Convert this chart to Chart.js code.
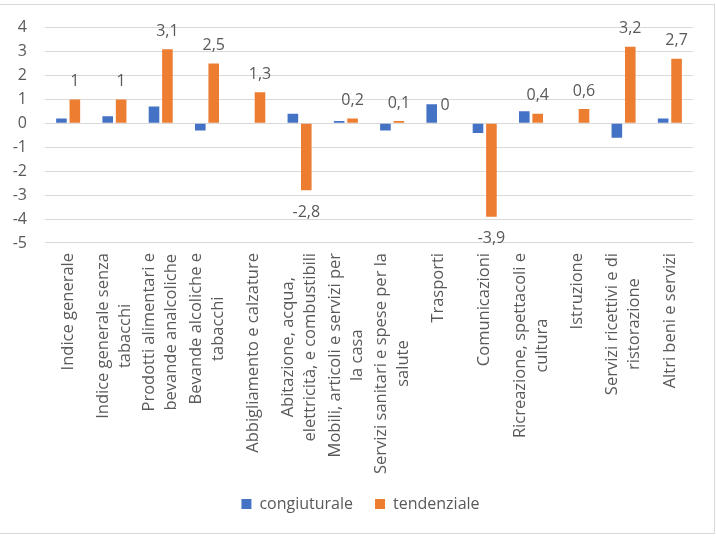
<!DOCTYPE html>
<html>
<head>
<meta charset="utf-8">
<script src="https://cdn.jsdelivr.net/npm/chart.js@4.4.1/dist/chart.umd.min.js"></script>
<style>
  html, body { margin: 0; padding: 0; background: #fff; }
  #wrap { position: relative; width: 716px; height: 539px; overflow: hidden; }
  #frame { position: absolute; left: -1px; top: 4px; width: 714px; height: 528px; border: 1px solid #d9d9d9; }
  #chart { position: absolute; left: 0; top: 0; }
</style>
</head>
<body>
<div id="wrap">
  <div id="frame"></div>
  <canvas id="chart" width="716" height="539"></canvas>
</div>
<script>
// Categories (already wrapped the way the original chart wraps them)
const categories = [
  ['Indice generale'],
  ['Indice generale senza', 'tabacchi'],
  ['Prodotti alimentari e', 'bevande analcoliche'],
  ['Bevande alcoliche e', 'tabacchi'],
  ['Abbigliamento e calzature'],
  ['Abitazione, acqua,', 'elettricità, e combustibili'],
  ['Mobili, articoli e servizi per', 'la casa'],
  ['Servizi sanitari e spese per la', 'salute'],
  ['Trasporti'],
  ['Comunicazioni'],
  ['Ricreazione, spettacoli e', 'cultura'],
  ['Istruzione'],
  ['Servizi ricettivi e di', 'ristorazione'],
  ['Altri beni e servizi']
];

const congiuturale = [0.2, 0.3, 0.7, -0.3, 0, 0.4, 0.1, -0.3, 0.8, -0.4, 0.5, 0, -0.6, 0.2];
const tendenziale = [1, 1, 3.1, 2.5, 1.3, -2.8, 0.2, 0.1, 0, -3.9, 0.4, 0.6, 3.2, 2.7];

const yMin = -5;
const yMax = 4;

const textColor = '#595959';
const fontFamily = '"Open Sans", "Noto Sans", sans-serif';

// italian decimal comma
function fmt(v) {
  return String(v).replace('.', ',');
}

// value labels on the tendenziale bars
const valueLabels = {
  id: 'valueLabels',
  afterDatasetsDraw(chart) {
    const ctx = chart.ctx;
    const meta = chart.getDatasetMeta(1);
    ctx.save();
    ctx.font = '16px ' + fontFamily;
    ctx.fillStyle = textColor;
    ctx.textAlign = 'center';
    ctx.textBaseline = 'middle';
    meta.data.forEach((bar, i) => {
      const v = tendenziale[i];
      const y = v >= 0 ? bar.y - 18 : bar.y + 22;
      ctx.fillText(fmt(v), bar.x, y);
    });
    ctx.restore();
  }
};

// vertical category labels, each block centred like in Excel
const categoryLabels = {
  id: 'categoryLabels',
  afterDraw(chart) {
    const ctx = chart.ctx;
    const xScale = chart.scales.x;
    const top = chart.chartArea.bottom + 10;
    const lineHeight = 22;
    ctx.save();
    ctx.font = '16.5px ' + fontFamily;
    ctx.fillStyle = textColor;
    ctx.textAlign = 'center';
    ctx.textBaseline = 'middle';
    categories.forEach((lines, i) => {
      const x = xScale.getPixelForTick(i);
      const w = Math.max(...lines.map(l => ctx.measureText(l).width));
      ctx.save();
      ctx.translate(x, top);
      ctx.rotate(-Math.PI / 2);
      lines.forEach((line, j) => {
        const off = (j - (lines.length - 1) / 2) * lineHeight;
        ctx.fillText(line, -w / 2, off);
      });
      ctx.restore();
    });
    ctx.restore();
  }
};

const chart = new Chart(document.getElementById('chart'), {
  type: 'bar',
  data: {
    labels: categories.map(c => c.join(' ')),
    datasets: [
      {
        label: 'congiuturale',
        data: congiuturale,
        backgroundColor: '#4472C4',
        categoryPercentage: 0.58,
        barPercentage: 0.79
      },
      {
        label: 'tendenziale',
        data: tendenziale,
        backgroundColor: '#ED7D31',
        categoryPercentage: 0.58,
        barPercentage: 0.79
      }
    ]
  },
  options: {
    responsive: false,
    animation: false,
    layout: { padding: { top: 27, right: 0, bottom: 17, left: 5 } },
    plugins: {
      legend: {
        position: 'bottom',
        labels: {
          boxWidth: 10,
          boxHeight: 10,
          padding: 22,
          color: textColor,
          font: { size: 16, family: fontFamily }
        }
      },
      tooltip: { enabled: false }
    },
    scales: {
      x: {
        grid: { display: false },
        border: { display: false },
        ticks: { display: false },
        afterFit(scale) { scale.height = 231; }
      },
      y: {
        min: yMin,
        max: yMax,
        ticks: {
          stepSize: 1,
          padding: 18,
          color: textColor,
          font: { size: 16, family: fontFamily }
        },
        grid: { color: '#d9d9d9', drawTicks: false },
        border: { display: false },
        afterFit(scale) { scale.width = 40; }
      },
      // empty right axis, only keeps the right margin of the plot
      yRight: {
        position: 'right',
        min: yMin,
        max: yMax,
        grid: { display: false },
        border: { display: false },
        ticks: { display: false },
        afterFit(scale) { scale.width = 23; }
      }
    }
  },
  plugins: [valueLabels, categoryLabels]
});
</script>
</body>
</html>
